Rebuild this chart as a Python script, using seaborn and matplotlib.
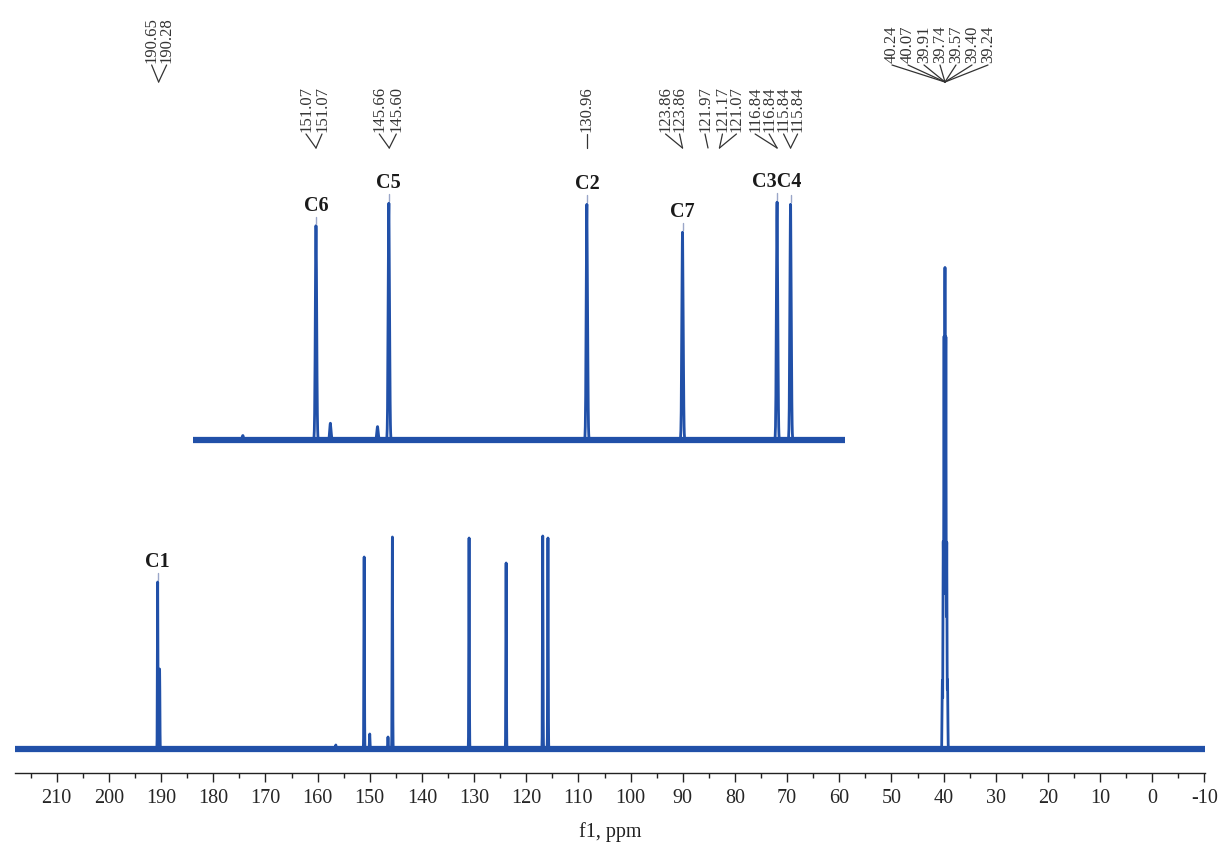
# %%
import numpy as np
import pandas as pd
import matplotlib
matplotlib.use("Agg")
import matplotlib.pyplot as plt
import seaborn as sns
from matplotlib.ticker import MultipleLocator

# %%
# pics du spectre 13C (ppm) et intensites lues sur le spectre principal
peak_ppm = [190.65, 190.28, 156.5, 151.07, 150.0, 146.5, 145.66, 130.96, 123.86, 116.84, 115.84]
peak_int = [167, 80, 4, 192, 15, 12, 212, 211, 186, 213, 211]

# septuplet du solvant DMSO-d6
dmso_ppm = [40.24, 40.07, 39.91, 39.74, 39.57, 39.40, 39.24]
dmso_int = [68, 205, 410, 479, 410, 205, 68]

# attributions des carbones
c_names = ['C1', 'C6', 'C5', 'C2', 'C7', 'C3C4']
c_ppm = [190.65, 151.07, 145.66, 130.96, 123.86, 116.84]
marker_ppm = [190.65, 151.07, 145.66, 130.96, 123.86, 116.84, 115.84]

# etiquettes des deplacements (en haut)
grp_190 = ['190.65', '190.28']
grp_151 = ['151.07', '151.07']
grp_145 = ['145.66', '145.60']
grp_131 = ['130.96']
grp_124 = ['123.86', '123.86']
grp_122 = ['121.97']
grp_121 = ['121.17', '121.07']
grp_117 = ['116.84', '116.84']
grp_116 = ['115.84', '115.84']
grp_dmso = ['40.24', '40.07', '39.91', '39.74', '39.57', '39.40', '39.24']
groups = [grp_190, grp_151, grp_145, grp_131, grp_124, grp_122, grp_121, grp_117, grp_116, grp_dmso]
group_ppm = [190.47, 151.07, 145.63, 130.96, 123.86, 121.97, 121.12, 116.84, 115.84, 39.74]

# zone agrandie
zoom_min, zoom_max = 111.8, 160.2

# %%
def spectre(x, ppm, inten, sigma=0.05):
    y = np.zeros_like(x)
    for p, h in zip(ppm, inten):
        y += h * np.exp(-0.5 * ((x - p) / sigma) ** 2)
    return y

all_ppm = peak_ppm + dmso_ppm
all_int = peak_int + dmso_int
x_main = np.arange(-10.1, 218.0, 0.005)
df_main = pd.DataFrame({'ppm': x_main, 'I': spectre(x_main, all_ppm, all_int)})
x_zoom = np.arange(zoom_min, zoom_max, 0.004)
df_zoom = pd.DataFrame({'ppm': x_zoom, 'I': spectre(x_zoom, all_ppm, all_int)})

intens = dict(zip(all_ppm, all_int))

# %%
sns.set_style("ticks")
plt.rcParams['font.family'] = ['Liberation Serif', 'DejaVu Serif']
plt.rcParams['axes.unicode_minus'] = False

W, H = 1221, 852
fig = plt.figure(figsize=(W / 100, H / 100), dpi=100)
blue = '#2150a8'

# spectre principal
ax = fig.add_axes([15 / W, 79 / H, 1190 / W, 773 / H])
ax.set_facecolor('none')
sns.lineplot(data=df_main, x='ppm', y='I', ax=ax, color=blue, lw=2.0,
             estimator=None, sort=False)
ax.axhline(0, color=blue, lw=4.5, solid_capstyle='butt')
ax.set_xlim(218, -10.1)
ax.set_ylim(-24, 749)
ax.xaxis.set_major_locator(MultipleLocator(10))
ax.xaxis.set_minor_locator(MultipleLocator(5))
ax.tick_params(axis='x', which='major', length=6.5, width=1.0, labelsize=14.5, pad=5, color='#222')
ax.tick_params(axis='x', which='minor', length=3.6, width=1.0, color='#222')
ax.set_yticks([])
ax.set_ylabel('')
ax.set_xlabel('f1, ppm', fontsize=14.5, labelpad=10, color='#222')
for s in ['left', 'right', 'top']:
    ax.spines[s].set_visible(False)
ax.spines['bottom'].set_linewidth(1.0)
ax.spines['bottom'].set_color('#222')

# agrandissement
axz = fig.add_axes([193 / W, (H - 470) / H, 652 / W, 320 / H])
axz.set_facecolor('none')
sns.lineplot(data=df_zoom, x='ppm', y='I', ax=axz, color=blue, lw=2.0,
             estimator=None, sort=False)
axz.axhline(0, color=blue, lw=4.5, solid_capstyle='butt')
axz.set_xlim(zoom_max, zoom_min)
axz.set_ylim(-30 / 1.117, 290 / 1.117)
axz.axis('off')

# couche en pixels pour les etiquettes
ov = fig.add_axes([0, 0, 1, 1])
ov.set_xlim(0, W)
ov.set_ylim(H, 0)
ov.axis('off')
ov.set_facecolor('none')


def in_zoom(p):
    return zoom_min < p < zoom_max


def pix(p, val):
    a = axz if in_zoom(p) else ax
    xd, yd = a.transData.transform((p, val))
    return xd, H - yd


# etiquettes des carbones
for name, p in zip(c_names, c_ppm):
    xp, yp = pix(p, intens[p])
    ov.text(xp, yp - 15, name, ha='center', va='baseline', fontsize=14.5,
            fontweight='bold', color='#1a1a1a')
for p in marker_ppm:
    xp, yp = pix(p, intens[p])
    ov.plot([xp, xp], [yp - 9, yp - 2], color='#9aa6c8', lw=1.0)

# etiquettes des deplacements chimiques
offsets = [[-7, 8], [-10, 6], [-10, 7], [0], [-17, -3], [-3], [3, 17],
           [-22, -8], [-7, 7], [-53, -37, -21, -5, 11, 27, 43]]
for labs, p, offs in zip(groups, group_ppm, offsets):
    xv, _ = pix(p, 0)
    if in_zoom(p):
        y_txt, y_v = 132, 148
    else:
        y_txt, y_v = 63, 82
    for lab, dx in zip(labs, offs):
        xl = xv + dx
        ov.text(xl, y_txt, lab, rotation=90, ha='center', va='bottom',
                fontsize=12, color='#333333')
        ov.plot([xl, xv], [y_txt + 2, y_v], color='#333333', lw=0.9)

fig.savefig('out.png', dpi=100)
